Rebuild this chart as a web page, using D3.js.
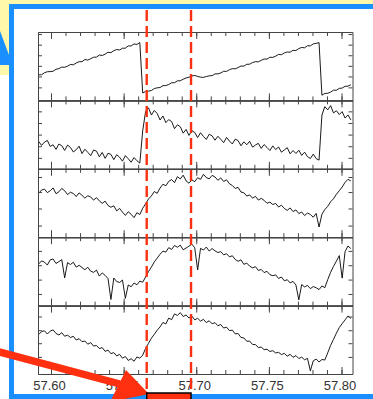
<!DOCTYPE html>
<html>
<head>
<meta charset="utf-8">
<script src="https://cdn.jsdelivr.net/npm/d3@7"></script>
<style>
  body { margin: 0; background: #fff; }
  svg { display: block; }
</style>
</head>
<body>
<div id="d3-container"></div>
<script>
// sample times, evenly spaced
const mjd = d3.range(109).map(i => 57.5915 + i * 0.00199);

const panel1 = [37.4, 37.5, 40.4, 41.9, 42.1, 42.6, 45.5, 46.5, 48.7, 48.4, 50.0, 52.6, 52.0, 54.7, 56.6, 56.6, 59.8, 58.9, 61.0, 63.1,
  63.3, 66.3, 65.7, 67.6, 70.4, 69.8, 72.7, 74.4, 73.7, 76.2, 76.4, 79.7, 79.6, 82.5, 81.8, 84.6,
  10.8, 13.1, 13.6, 14.4, 17.3, 18.4, 18.8, 21.6, 21.7, 23.2, 25.8, 25.9, 28.6, 28.7, 30.9, 32.8, 33.9, 35.8, 36.4,
  35.1, 34.0, 33.6, 34.9,
  35.9, 36.2, 38.7, 38.8, 40.1, 42.6, 42.4, 44.9, 46.4, 46.2, 48.0, 50.3, 50.1, 52.8, 52.9, 55.4, 56.6, 56.4, 58.6, 60.5,
  60.3, 63.1, 62.9, 64.7, 67.2, 66.8, 69.4, 70.8, 70.4, 73.3, 72.9, 75.8, 77.4, 76.9, 79.9, 79.7, 82.6, 83.4, 84.5,
  7.6, 10.2, 10.4, 12.1, 14.9, 14.8, 17.6, 18.0, 20.6, 20.8, 22.9];

const panel2 = [40.1, 34.2, 38.9, 41.5, 32.7, 35.1, 28.4, 36.2, 33.8, 26.9, 34.7, 31.2, 24.6, 27.9, 33.1, 22.3, 28.6, 24.1, 19.2, 27.4,
  25.8, 17.6, 23.9, 15.3, 22.7, 21.1, 13.4, 20.6, 16.8, 11.2, 19.3, 14.7, 9.6, 16.4, 11.8, 8.3,
  55.7, 83.9, 89.2,
  78.6, 85.3, 80.9, 71.4, 77.2, 67.5, 71.9, 69.1, 58.7, 64.3, 61.5, 52.1, 57.6,
  48.9, 55.8, 53.1, 45.6, 52.7, 47.3, 42.9, 50.6, 48.2, 41.8, 47.5,
  43.1, 38.2, 45.9, 40.6, 36.3, 43.4, 41.2, 33.7, 39.5, 35.2, 40.1, 31.6, 34.8, 37.2,
  29.8, 35.4, 31.2, 26.7, 33.5, 28.1, 31.9, 24.3, 27.6, 30.8, 21.9, 26.7, 22.4, 27.1,
  19.6, 24.3, 17.8, 15.1, 21.4, 14.9, 12.7,
  78.6, 90.8, 86.2, 92.4, 81.7, 84.9, 79.3, 83.6, 74.2, 78.8, 71.5];

const panel3 = [64.1, 68.9, 70.3, 65.2, 67.8, 72.1, 63.6, 66.4, 71.2, 68.0, 62.3, 65.7, 63.9, 59.4, 64.8, 61.2, 57.1, 60.6, 58.9, 54.2,
  57.8, 53.1, 49.4, 52.7, 46.3, 43.8, 45.9, 38.4, 42.1, 36.7, 31.9, 37.2, 33.5, 28.6, 35.9, 33.1,
  42.4, 48.7, 55.9, 60.3, 66.8, 64.1, 71.9, 77.4, 75.2, 81.6, 84.3, 79.7, 88.5, 85.1, 90.7, 82.4, 78.9, 83.7, 81.2,
  86.9, 84.6, 91.8, 87.2, 85.3, 90.4, 88.1, 83.2, 86.7, 81.4, 83.9, 78.2, 75.6, 71.3, 72.8, 66.1, 64.9, 60.2, 61.8,
  57.1, 59.7, 54.3, 56.8, 53.9, 49.6, 51.2, 47.8, 49.3, 44.1, 46.7, 41.9, 39.2, 42.8, 37.5, 39.9, 34.6, 36.8, 31.7,
  35.4, 33.1, 29.2, 34.7, 14.9, 33.6, 40.4, 45.1, 51.8, 56.2, 62.7, 67.9, 73.3, 80.2, 84.6, 82.3];

const panel4 = [60.8, 65.4, 63.7, 59.2, 66.9, 68.1, 61.6, 64.3, 67.2, 40.6, 62.8, 60.1, 63.4, 56.2, 58.9, 55.7, 52.4, 56.1, 50.3, 48.6,
  51.9, 43.2, 47.8, 44.1, 39.6, 8.9, 40.3, 35.2, 33.8, 37.4, 10.7, 30.2, 27.6, 33.1, 30.4, 35.8, 34.2, 41.9, 49.7, 56.3,
  63.8, 69.4, 75.1, 79.6, 78.2, 84.7, 82.1, 87.9, 85.3, 88.4, 81.6, 84.2, 86.9, 89.8, 84.5, 52.1, 83.7, 81.2, 85.6, 79.8,
  83.4, 80.1, 77.6, 78.9, 74.2, 75.8, 71.3, 72.9, 67.4, 64.8, 66.9, 60.3, 62.1, 57.6, 55.2, 56.9, 51.4, 52.8, 48.3, 50.1,
  45.2, 43.7, 44.9, 39.6, 41.8, 36.2, 37.9, 33.1, 35.4, 30.2, 8.4, 30.8, 27.3, 29.6, 24.8, 27.9, 26.1, 23.4, 28.7, 26.2,
  37.9, 48.6, 57.3, 64.9, 73.1, 40.2, 78.8, 87.1, 83.4];

const panel5 = [57.6, 61.9, 63.2, 58.4, 62.7, 64.5, 59.3, 57.1, 60.4, 55.2, 56.8, 53.4, 55.1, 49.7, 51.6, 47.3, 48.2, 43.6, 45.9, 40.8,
  41.7, 37.2, 38.6, 33.1, 34.9, 29.8, 31.2, 26.4, 28.7, 23.1, 25.6, 19.8, 22.4, 18.6, 24.9, 23.1, 27.6, 37.4, 44.8, 52.3,
  57.9, 64.1, 68.8, 75.4, 73.2, 81.7, 79.4, 87.8, 85.6, 89.7, 84.1, 86.3, 81.9, 84.7, 79.2, 81.5, 77.3, 79.9, 75.2, 77.8,
  73.4, 75.1, 70.6, 72.3, 67.2, 68.4, 63.5, 64.1, 58.6, 59.2, 53.4, 52.7, 47.9, 48.1, 43.2, 42.9, 38.7, 39.4, 35.6, 36.2,
  32.9, 34.1, 30.8, 31.6, 28.4, 30.2, 26.1, 28.8, 24.3, 26.9, 22.6, 24.7, 20.8, 22.9, 4.6, 19.3, 21.8, 17.6, 21.2, 20.4,
  30.9, 41.8, 50.6, 59.7, 67.9, 73.6, 79.1, 84.8, 81.2];

const series = [panel1, panel2, panel3, panel4, panel5];
const yTicks = [
  [19, 35, 50.5, 66, 81.5, 97],
  [16, 33, 50, 67, 84],
  [17, 42, 66, 88],
  [17, 38, 59, 80],
  [25, 45, 64, 84]
];

const majorTicks = [57.60, 57.65, 57.70, 57.75, 57.80];
const minorTicks = d3.range(57.60, 57.8001, 0.01);
const markers = [57.6659, 57.6964];

const width = 373;
const height = 399;
const plot = { left: 38, right: 352.5, top: 32, bottom: 374 };
const panelH = (plot.bottom - plot.top) / series.length;

const axisColor = "#444";
const red = "#ff3010";
const blue = "#1a8fff";
const yellow = "#fff8a8";

const svg = d3.select('#d3-container')
  .append('svg')
  .attr('width', width)
  .attr('height', height);

svg.append("rect").attr("width", width).attr("height", height).attr("fill", "#fff");

// slide decoration behind the chart
svg.append("rect").attr("x", 0).attr("y", 0).attr("width", width).attr("height", 4).attr("fill", yellow);
svg.append("rect").attr("x", 0).attr("y", 0).attr("width", 9).attr("height", 75).attr("fill", yellow);
svg.append("polygon").attr("points", "0,31 9,55 9,65 0,65").attr("fill", blue);
svg.append("rect").attr("x", 9).attr("y", 4).attr("width", width - 9).attr("height", 5).attr("fill", blue);
svg.append("rect").attr("x", 9).attr("y", 4).attr("width", 5).attr("height", height - 4).attr("fill", blue);
svg.append("rect").attr("x", 9).attr("y", 394).attr("width", width - 9).attr("height", 5).attr("fill", blue);

const x = d3.scaleLinear()
  .domain([57.59105, 57.80757])
  .range([plot.left, plot.right]);

series.forEach((values, k) => {
  const top = plot.top + k * panelH;
  const bottom = top + panelH;
  const y = d3.scaleLinear().domain([0, 100]).range([bottom, top]);
  const g = svg.append("g");

  const line = d3.line()
    .x((d, i) => x(mjd[i]))
    .y(d => y(d));

  g.append("path")
    .datum(values)
    .attr("fill", "none")
    .attr("stroke", "#000")
    .attr("stroke-width", 0.9)
    .attr("d", line);

  // frame and ticks
  function styleAxis(a) {
    a.selectAll("path, line").attr("stroke", axisColor);
    a.selectAll("text").remove();
  }
  g.append("g").attr("transform", `translate(0,${top})`)
    .call(d3.axisTop(x).tickValues(minorTicks).tickSize(-4).tickSizeOuter(0)).call(styleAxis);
  g.append("g").attr("transform", `translate(0,${top})`)
    .call(d3.axisTop(x).tickValues(majorTicks).tickSize(-7).tickSizeOuter(0)).call(styleAxis);
  g.append("g").attr("transform", `translate(0,${bottom})`)
    .call(d3.axisBottom(x).tickValues(minorTicks).tickSize(-4).tickSizeOuter(0)).call(styleAxis);
  g.append("g").attr("transform", `translate(0,${bottom})`)
    .call(d3.axisBottom(x).tickValues(majorTicks).tickSize(-7).tickSizeOuter(0)).call(styleAxis);
  g.append("g").attr("transform", `translate(${plot.left},0)`)
    .call(d3.axisLeft(y).tickValues(yTicks[k]).tickSize(-4).tickSizeOuter(0)).call(styleAxis);
  g.append("g").attr("transform", `translate(${plot.right},0)`)
    .call(d3.axisRight(y).tickValues(yTicks[k]).tickSize(-4).tickSizeOuter(0)).call(styleAxis);
});

// bottom labels
const xAxis = svg.append("g")
  .attr("transform", `translate(0,${plot.bottom})`)
  .call(d3.axisBottom(x).tickValues(majorTicks).tickSize(0).tickPadding(7).tickFormat(d3.format(".2f")));
xAxis.select(".domain").remove();
xAxis.selectAll("text")
  .attr("font-family", "'Liberation Sans', Arial, sans-serif")
  .attr("font-size", "13px")
  .attr("fill", "#333")
  .attr("dx", -2);

// red markers
svg.append("g")
  .selectAll("line")
  .data(markers)
  .join("line")
    .attr("x1", d => x(d))
    .attr("x2", d => x(d))
    .attr("y1", 10)
    .attr("y2", 393)
    .attr("stroke", red)
    .attr("stroke-width", 2.4)
    .attr("stroke-dasharray", "11,5");

// arrow and highlight box
svg.append("line")
  .attr("x1", -4).attr("y1", 351)
  .attr("x2", 120).attr("y2", 384)
  .attr("stroke", red)
  .attr("stroke-width", 7.5);
svg.append("polygon")
  .attr("points", "126,370 149,394 110,402")
  .attr("fill", red);
svg.append("rect")
  .attr("x", x(markers[0]))
  .attr("y", 393)
  .attr("width", x(markers[1]) - x(markers[0]))
  .attr("height", 10)
  .attr("fill", red)
  .attr("stroke", "#000")
  .attr("stroke-width", 1.5);
</script>
</body>
</html>
